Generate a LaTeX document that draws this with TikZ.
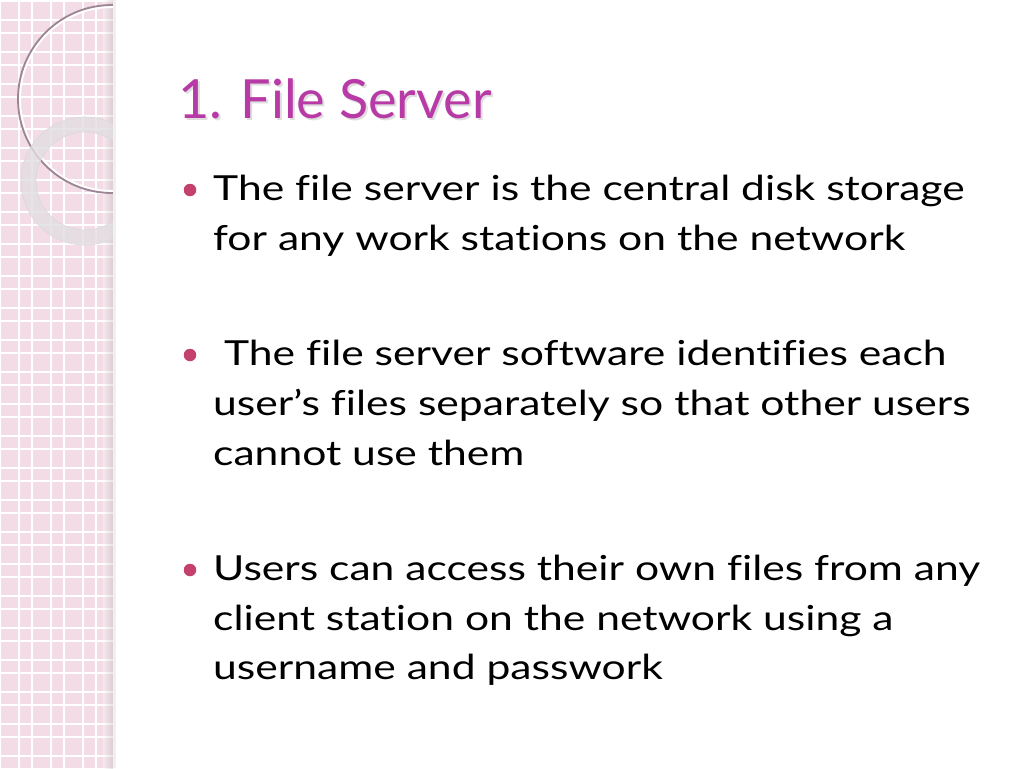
\documentclass[tikz,border=0pt]{standalone}
\usepackage{fontspec}
\setmainfont{Lato}
\newfontfamily\bodyfont{Lato}[FakeStretch=1.235, Ligatures=NoCommon]
\definecolor{strip}{HTML}{F3DCE6}
\definecolor{titlec}{HTML}{B83AA6}
\definecolor{bulletc}{HTML}{C4416E}
\definecolor{arcc}{HTML}{9C8594}
\definecolor{ringc}{HTML}{E2DEE2}
\begin{document}
\begin{tikzpicture}[x=1pt,y=-1pt,
  body/.style={anchor=base west, inner sep=0pt, font=\bodyfont\fontsize{34.5}{40}\selectfont, text=black},
  bul/.style={circle, fill=bulletc, inner sep=0pt, minimum size=12.5pt},
  ttl/.style={anchor=base west, inner sep=0pt, font=\fontsize{54}{60}\selectfont, text=titlec}]
\useasboundingbox (0,0) rectangle (1024,768);
\fill[white] (0,0) rectangle (1024,768);
% left strip
\begin{scope}
\clip (0,0) rectangle (113,768);
\fill[strip] (0,0) rectangle (113,768);
\foreach \k in {0,...,24}{
  \draw[white, line width=1.6pt] ({19+32*\k-32},0) -- ({19+32*\k-32},768);
  \draw[white, line width=1.6pt] ({32+32*\k-32},0) -- ({32+32*\k-32},768);
  \draw[white, line width=1.6pt] (0,{20+32*\k-32}) -- (113,{20+32*\k-32});
  \draw[white, line width=1.6pt] (0,{33+32*\k-32}) -- (113,{33+32*\k-32});
}
\shade[left color=strip!0!white, right color=black!30, opacity=0.35] (103,0) rectangle (113,768);
% big circle
\draw[white, line width=2pt] (112,99) circle[radius=92];
\draw[arcc, line width=1.8pt] (112,99) circle[radius=94];
% ring
\fill[ringc, opacity=0.8, even odd rule] (85,181) circle[radius=64] (85,181) circle[radius=49];
\draw[black!15, line width=0.6pt] (85,181) circle[radius=64];
\draw[black!15, line width=0.6pt] (85,181) circle[radius=49];
\end{scope}
\fill[black!6] (113,0) rectangle (116,768);
% title
\node[ttl, text=black!25, opacity=0.5] (tshadow) at (180,120) {1. File Server};
\node[ttl] (title) at (178,118) {1. File Server};
% bullets
\node[bul] (b1) at (190,190) {};
\node[bul] (b2) at (190,355) {};
\node[bul] (b3) at (190,570) {};
% body text
\node[body] (l1) at (213,200) {The file server is the central disk storage};
\node[body] (l2) at (213,250) {for any work stations on the network};
\node[body] (l3) at (213,365) {\ The file server software identifies each};
\node[body] (l4) at (213,415) {user’s files separately so that other users};
\node[body] (l5) at (213,465) {cannot use them};
\node[body] (l6) at (213,580) {Users can access their own files from any};
\node[body] (l7) at (213,630) {client station on the network using a};
\node[body] (l8) at (213,679) {username and passwork};
\end{tikzpicture}
\end{document}
